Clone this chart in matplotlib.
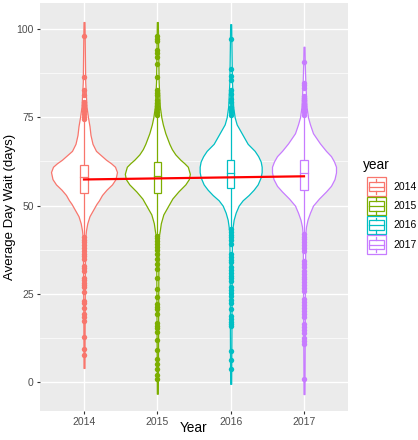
import numpy as np
import matplotlib
matplotlib.use('Agg')
import matplotlib.pyplot as plt
from matplotlib.patches import Rectangle

plt.rcParams['font.family'] = ['Liberation Sans', 'DejaVu Sans']

years = ['2014', '2015', '2016', '2017']
colors = ['#F8766D', '#7CAE00', '#00BFC4', '#C77CFF']

# violin outlines: wait level and relative width (1 = widest)
levels_2014 = [4, 20, 35, 41, 43, 45, 47, 49, 50.5, 51.5, 53, 54.5, 56, 57.5, 59.5, 61, 62, 63, 64, 65.5, 67.5, 70, 72.5, 75, 78, 85, 95, 102]
width_2014 = [0.5, 0.7, 1, 1.3, 2, 3.3, 5.5, 9.5, 12.5, 15, 18, 22.5, 28, 31.5, 33, 31, 27, 22, 18, 12, 8.5, 6.5, 5.5, 4, 2.5, 1.2, 0.8, 0.5]

levels_2015 = [-3.3, 10, 30, 41, 43, 45, 47.5, 50, 52, 54, 56, 57.5, 59, 61, 62, 63, 64.5, 66, 67.5, 70.5, 73, 75, 78, 85, 95, 102]
width_2015 = [0.5, 0.7, 1, 1.3, 2.5, 3.5, 6, 11, 15, 21, 28, 31.5, 32.5, 30.5, 27, 23, 18, 14.5, 12, 8, 5.5, 4, 2.5, 1.3, 0.8, 0.5]

levels_2016 = [-0.5, 10, 30, 42, 44, 46, 48, 50, 51.5, 53, 54.5, 56, 58, 59.5, 61, 62.5, 64, 65.5, 67.5, 70.5, 73, 75, 78, 85, 95, 101.4]
width_2016 = [0.5, 0.7, 1, 1.3, 2, 3, 5, 8, 12, 18, 23, 27, 30, 31, 31, 30, 27.5, 24, 17, 11, 6, 4, 2.5, 1.3, 0.8, 0.5]

levels_2017 = [-3.4, 10, 30, 42, 44, 46, 48, 50, 52, 54, 55.6, 57.5, 59.4, 61, 62.5, 64, 65.5, 67.6, 70.5, 73, 75, 78, 85, 90, 95]
width_2017 = [0.5, 0.7, 1, 1.3, 2, 3.5, 6, 9, 15, 22, 27, 30.5, 32, 32, 30, 27, 22, 16, 9, 6, 4, 2.5, 1.3, 0.8, 0.5]

# boxplot statistics
box_q1 = [53.5, 53.7, 54.9, 54.5]
box_med = [58.0, 58.5, 59.2, 59.2]
box_q3 = [61.6, 62.3, 63.0, 63.0]
whisker_lo = [41.6, 41.2, 43.2, 42.4]
whisker_hi = [73.8, 75.0, 75.0, 75.4]

# outliers
out_2014 = [98.1, 86.5, 82.7, 81.4, 79.4, 78.5, 77.6, 76.8, 76.0, 75.2, 74.5,
            41.0, 40.3, 39.6, 38.8, 38.0, 37.2, 36.4, 35.6, 34.8, 32.9, 32.2, 31.5,
            29.6, 28.9, 28.2, 27.5, 26.8, 25.4, 23.0, 22.5, 20.9, 19.2, 18.3, 17.3,
            12.9, 9.5, 7.7]
out_2015 = [98.0, 97.3, 96.6, 94.2, 93.1, 92.2, 90.0, 86.3, 82.7, 81.9, 81.2,
            79.8, 79.0, 78.2, 77.4, 76.6, 75.8,
            41.5, 40.7, 39.9, 39.1, 38.3, 37.5, 36.3, 34.8, 33.4, 32.0, 29.4, 26.3,
            24.0, 22.1, 21.3, 20.6, 19.2, 16.6, 16.0, 15.4, 14.3, 11.9, 9.0, 6.6,
            5.0, 3.8, 2.0, 0.8]
out_2016 = [97.3, 88.8, 86.6, 85.5, 82.7, 81.5, 80.3, 79.3, 77.9, 77.2, 76.5, 75.8,
            43.4, 42.6, 41.8, 41.0, 40.2, 39.1, 36.3, 35.5, 34.7, 33.9, 32.5, 31.7,
            30.9, 30.1, 29.4, 28.7, 26.8, 26.0, 25.2, 24.4, 23.3, 22.5, 20.6, 18.7,
            17.9, 17.1, 16.5, 15.9, 8.8, 6.2, 3.6]
out_2017 = [90.8, 84.8, 84.1, 83.4, 81.0, 80.4, 79.8, 78.9, 78.1, 77.3, 76.5, 75.8,
            42.0, 41.2, 40.4, 39.6, 38.8, 38.0, 37.2, 34.4, 33.5, 32.5, 31.5, 30.7,
            29.9, 29.1, 28.3, 27.5, 26.7, 25.9, 23.5, 22.7, 21.9, 21.1, 20.2, 19.3,
            18.3, 16.4, 15.6, 14.8, 14.0, 12.6, 11.6, 10.7, 0.8]

# linear trend across years
trend_years = [2014, 2017]
trend_values = [57.4, 58.3]

levels = [levels_2014, levels_2015, levels_2016, levels_2017]
widths = [width_2014, width_2015, width_2016, width_2017]
outliers = [out_2014, out_2015, out_2016, out_2017]

W, H = 418, 440
fig = plt.figure(figsize=(W / 100, H / 100), dpi=100)
left, right, top, bottom = 40, 348, 3, 411
ax = fig.add_axes([left / W, 1 - bottom / H, (right - left) / W, (bottom - top) / H])
ax.set_facecolor('#EBEBEB')
for s in ax.spines.values():
    s.set_visible(False)

ax.set_xlim(0.4, 4.6)
ax.set_ylim(-8.2, 107.4)
ax.set_yticks([0, 25, 50, 75, 100])
ax.set_yticks([12.5, 37.5, 62.5, 87.5], minor=True)
ax.set_xticks([1, 2, 3, 4])
ax.set_xticklabels(years)
ax.grid(True, which='major', color='white', lw=1.0)
ax.grid(True, which='minor', axis='y', color='white', lw=0.5)
ax.set_axisbelow(True)
ax.tick_params(which='major', length=2.5, width=0.8, color='#333333',
               labelcolor='#4D4D4D', labelsize=7.5, pad=2)
ax.tick_params(which='minor', length=0)

half = 0.45
for i in range(4):
    x = i + 1
    c = colors[i]
    lv = np.array(levels[i])
    w = np.array(widths[i]) / 33.0 * half
    ax.fill_betweenx(lv, x - w, x + w, facecolor='white', edgecolor=c, lw=0.9, zorder=2)
    ax.plot([x, x], [box_q3[i], whisker_hi[i]], color=c, lw=0.9, zorder=3)
    ax.plot([x, x], [whisker_lo[i], box_q1[i]], color=c, lw=0.9, zorder=3)
    ax.add_patch(Rectangle((x - 0.05, box_q1[i]), 0.1, box_q3[i] - box_q1[i],
                           facecolor='white', edgecolor=c, lw=0.9, zorder=3))
    ax.plot([x - 0.05, x + 0.05], [box_med[i], box_med[i]], color=c, lw=0.9, zorder=3)
    ax.plot([x] * len(outliers[i]), outliers[i], 'o', ms=3.9, color=c, mec='none', zorder=4)

ax.plot([y - 2013 for y in trend_years], trend_values, color='red', lw=1.6, zorder=5)

fig.text(194 / W, 1 - 428 / H, 'Year', ha='center', va='center', fontsize=9.8)
fig.text(10 / W, 1 - 207 / H, 'Average Day Wait (days)', ha='center', va='center',
         rotation=90, fontsize=9.5)

# legend drawn in pixel coordinates
lg = fig.add_axes([0, 0, 1, 1])
lg.set_xlim(0, W)
lg.set_ylim(H, 0)
lg.axis('off')
lg.text(363, 165, 'year', ha='left', va='center', fontsize=9.8)
kx, kw, kh = 366, 20, 19.3
for i in range(4):
    c = colors[i]
    ky = 177 + i * kh
    lg.add_patch(Rectangle((kx + 0.5, ky + 0.5), kw - 1, kh - 1, facecolor='white', edgecolor=c, lw=0.9))
    cx = kx + kw / 2
    lg.plot([cx, cx], [ky + 0.1 * kh, ky + 0.25 * kh], color=c, lw=0.9)
    lg.plot([cx, cx], [ky + 0.75 * kh, ky + 0.9 * kh], color=c, lw=0.9)
    lg.add_patch(Rectangle((kx + 0.125 * kw, ky + 0.25 * kh), 0.75 * kw, 0.5 * kh,
                           facecolor='white', edgecolor=c, lw=0.9))
    lg.plot([kx + 0.125 * kw, kx + 0.875 * kw], [ky + 0.5 * kh] * 2, color=c, lw=0.9)
    lg.text(393, ky + kh / 2, years[i], ha='left', va='center', fontsize=7.5)

fig.savefig('out.png', dpi=100)
